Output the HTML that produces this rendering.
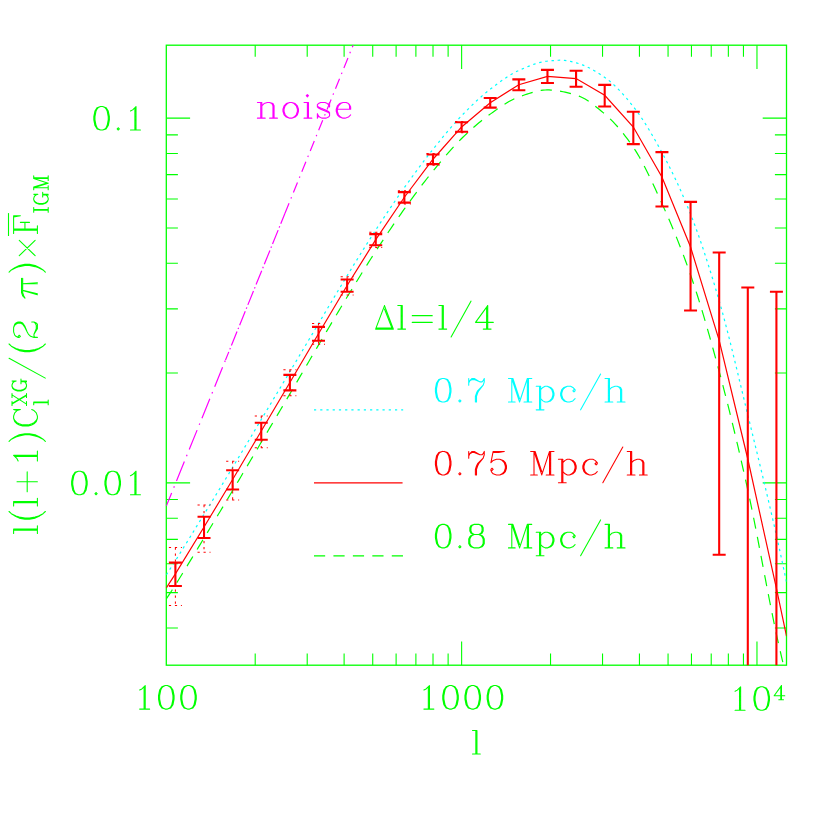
<!DOCTYPE html><html><head><meta charset="utf-8"><title>plot</title><style>html,body{margin:0;padding:0;background:#fff;font-family:"Liberation Sans",sans-serif}svg{display:block}</style></head><body><svg width="830" height="830" viewBox="0 0 830 830"><rect x="0" y="0" width="830" height="830" fill="#ffffff"/>
<path d="M255.2 665.2v-11.6M255.2 45.2v11.6M307.21 665.2v-11.6M307.21 45.2v11.6M344.11 665.2v-11.6M344.11 45.2v11.6M372.73 665.2v-11.6M372.73 45.2v11.6M396.11 665.2v-11.6M396.11 45.2v11.6M415.89 665.2v-11.6M415.89 45.2v11.6M433.01 665.2v-11.6M433.01 45.2v11.6M448.12 665.2v-11.6M448.12 45.2v11.6M461.63 665.2v-23.8M461.63 45.2v23.8M550.54 665.2v-11.6M550.54 45.2v11.6M602.54 665.2v-11.6M602.54 45.2v11.6M639.44 665.2v-11.6M639.44 45.2v11.6M668.06 665.2v-11.6M668.06 45.2v11.6M691.45 665.2v-11.6M691.45 45.2v11.6M711.22 665.2v-11.6M711.22 45.2v11.6M728.35 665.2v-11.6M728.35 45.2v11.6M743.45 665.2v-11.6M743.45 45.2v11.6M756.97 665.2v-23.8M756.97 45.2v23.8M166.3 627.98h11.6M786.5 627.98h-11.6M166.3 592.63h11.6M786.5 592.63h-11.6M166.3 563.76h11.6M786.5 563.76h-11.6M166.3 539.34h11.6M786.5 539.34h-11.6M166.3 518.19h11.6M786.5 518.19h-11.6M166.3 499.54h11.6M786.5 499.54h-11.6M166.3 482.85h23.8M786.5 482.85h-23.8M166.3 373.06h11.6M786.5 373.06h-11.6M166.3 308.84h11.6M786.5 308.84h-11.6M166.3 263.27h11.6M786.5 263.27h-11.6M166.3 227.93h11.6M786.5 227.93h-11.6M166.3 199.05h11.6M786.5 199.05h-11.6M166.3 174.63h11.6M786.5 174.63h-11.6M166.3 153.48h11.6M786.5 153.48h-11.6M166.3 134.83h11.6M786.5 134.83h-11.6M166.3 118.14h23.8M786.5 118.14h-23.8" stroke="#00ff00" stroke-width="1.1" fill="none"/>
<rect x="166.3" y="45.2" width="620.2" height="620" fill="none" stroke="#00ff00" stroke-width="1.3"/>
<clipPath id="c"><rect x="166.3" y="45.2" width="620.2" height="620"/></clipPath>
<g clip-path="url(#c)">
<path d="M166.3 506.1 L225.5 360.04" stroke="#ff00ff" stroke-width="1.2" fill="none" stroke-dasharray="21 5.7 1.5 5.7" stroke-dashoffset="6.8"/>
<path d="M225.5 360.04 L284.99 213.24" stroke="#ff00ff" stroke-width="1.2" fill="none" stroke-dasharray="15 2.7 1.5 2.7" stroke-dashoffset="6.2"/>
<path d="M284.99 213.24 L353.73 43.64" stroke="#ff00ff" stroke-width="1.2" fill="none" stroke-dasharray="10.8 5.05 1.5 5.05"/>
<path d="M166.3 574.8 L168.3 571.72 L170.3 568.63 L172.3 565.53 L174.3 562.4 L176.3 559.24 L178.3 556.06 L180.3 552.87 L182.31 549.66 L184.31 546.44 L186.31 543.21 L188.31 539.97 L190.31 536.72 L192.31 533.46 L194.31 530.2 L196.31 526.93 L198.31 523.66 L200.31 520.4 L202.31 517.13 L204.31 513.87 L206.31 510.61 L208.31 507.34 L210.31 504.07 L212.31 500.8 L214.32 497.53 L216.32 494.25 L218.32 490.97 L220.32 487.68 L222.32 484.39 L224.32 481.1 L226.32 477.8 L228.32 474.5 L230.32 471.19 L232.32 467.88 L234.32 464.57 L236.32 461.24 L238.32 457.91 L240.32 454.58 L242.32 451.24 L244.33 447.89 L246.33 444.54 L248.33 441.19 L250.33 437.84 L252.33 434.48 L254.33 431.13 L256.33 427.78 L258.33 424.43 L260.33 421.08 L262.33 417.73 L264.33 414.39 L266.33 411.05 L268.33 407.7 L270.33 404.36 L272.33 401.02 L274.33 397.67 L276.34 394.33 L278.34 390.98 L280.34 387.64 L282.34 384.29 L284.34 380.94 L286.34 377.59 L288.34 374.24 L290.34 370.89 L292.34 367.53 L294.34 364.18 L296.34 360.82 L298.34 357.46 L300.34 354.1 L302.34 350.73 L304.34 347.37 L306.35 344.01 L308.35 340.64 L310.35 337.28 L312.35 333.92 L314.35 330.56 L316.35 327.21 L318.35 323.85 L320.35 320.49 L322.35 317.13 L324.35 313.76 L326.35 310.39 L328.35 307.02 L330.35 303.65 L332.35 300.28 L334.35 296.92 L336.35 293.57 L338.36 290.22 L340.36 286.89 L342.36 283.57 L344.36 280.26 L346.36 276.98 L348.36 273.71 L350.36 270.44 L352.36 267.18 L354.36 263.93 L356.36 260.69 L358.36 257.45 L360.36 254.23 L362.36 251.02 L364.36 247.82 L366.36 244.65 L368.37 241.48 L370.37 238.34 L372.37 235.22 L374.37 232.12 L376.37 229.04 L378.37 225.97 L380.37 222.92 L382.37 219.88 L384.37 216.86 L386.37 213.85 L388.37 210.86 L390.37 207.89 L392.37 204.93 L394.37 202 L396.37 199.08 L398.37 196.19 L400.38 193.31 L402.38 190.46 L404.38 187.64 L406.38 184.83 L408.38 182.04 L410.38 179.26 L412.38 176.5 L414.38 173.76 L416.38 171.03 L418.38 168.33 L420.38 165.65 L422.38 162.99 L424.38 160.35 L426.38 157.74 L428.38 155.16 L430.39 152.6 L432.39 150.07 L434.39 147.57 L436.39 145.07 L438.39 142.59 L440.39 140.12 L442.39 137.67 L444.39 135.24 L446.39 132.83 L448.39 130.45 L450.39 128.11 L452.39 125.8 L454.39 123.53 L456.39 121.3 L458.39 119.12 L460.39 116.99 L462.4 114.91 L464.4 112.85 L466.4 110.82 L468.4 108.81 L470.4 106.83 L472.4 104.87 L474.4 102.95 L476.4 101.06 L478.4 99.22 L480.4 97.41 L482.4 95.64 L484.4 93.93 L486.4 92.26 L488.4 90.65 L490.4 89.09 L492.41 87.55 L494.41 86.03 L496.41 84.51 L498.41 83.02 L500.41 81.56 L502.41 80.13 L504.41 78.74 L506.41 77.39 L508.41 76.1 L510.41 74.87 L512.41 73.7 L514.41 72.6 L516.41 71.58 L518.41 70.64 L520.41 69.77 L522.41 68.9 L524.42 68.04 L526.42 67.2 L528.42 66.38 L530.42 65.59 L532.42 64.84 L534.42 64.14 L536.42 63.49 L538.42 62.89 L540.42 62.36 L542.42 61.9 L544.42 61.52 L546.42 61.23 L548.42 61.02 L550.42 60.83 L552.42 60.65 L554.43 60.49 L556.43 60.36 L558.43 60.27 L560.43 60.21 L562.43 60.21 L564.43 60.33 L566.43 60.58 L568.43 60.94 L570.43 61.37 L572.43 61.86 L574.43 62.37 L576.43 62.89 L578.43 63.46 L580.43 64.12 L582.43 64.86 L584.43 65.69 L586.44 66.58 L588.44 67.54 L590.44 68.57 L592.44 69.66 L594.44 70.8 L596.44 71.99 L598.44 73.23 L600.44 74.51 L602.44 75.82 L604.44 77.16 L606.44 78.56 L608.44 80.09 L610.44 81.73 L612.44 83.48 L614.44 85.34 L616.45 87.29 L618.45 89.32 L620.45 91.44 L622.45 93.64 L624.45 95.9 L626.45 98.22 L628.45 100.6 L630.45 103.03 L632.45 105.49 L634.45 108.01 L636.45 110.64 L638.45 113.4 L640.45 116.27 L642.45 119.25 L644.45 122.33 L646.45 125.51 L648.46 128.77 L650.46 132.11 L652.46 135.53 L654.46 139.01 L656.46 142.54 L658.46 146.13 L660.46 149.76 L662.46 153.43 L664.46 157.17 L666.46 160.98 L668.46 164.87 L670.46 168.85 L672.46 172.91 L674.46 177.06 L676.46 181.3 L678.47 185.64 L680.47 190.08 L682.47 194.61 L684.47 199.26 L686.47 204.01 L688.47 208.87 L690.47 213.84 L692.47 218.96 L694.47 224.24 L696.47 229.68 L698.47 235.28 L700.47 241.03 L702.47 246.92 L704.47 252.94 L706.47 259.1 L708.47 265.38 L710.48 271.78 L712.48 278.3 L714.48 284.92 L716.48 291.64 L718.48 298.46 L720.48 305.4 L722.48 312.59 L724.48 320.01 L726.48 327.64 L728.48 335.45 L730.48 343.41 L732.48 351.5 L734.48 359.69 L736.48 367.97 L738.48 376.29 L740.49 384.64 L742.49 393 L744.49 401.33 L746.49 409.61 L748.49 417.82 L750.49 426.01 L752.49 434.2 L754.49 442.42 L756.49 450.65 L758.49 458.91 L760.49 467.21 L762.49 475.55 L764.49 483.94 L766.49 492.38 L768.49 500.9 L770.49 509.48 L772.5 518.15 L774.5 526.9 L776.5 535.74 L778.5 544.74 L780.5 553.91 L782.5 563.22 L784.5 572.63 L786.5 582.1" stroke="#00ffff" stroke-width="1.2" fill="none" stroke-dasharray="2.5 3.73"/>
<path d="M166.3 599 L168.3 595.92 L170.31 592.83 L172.31 589.72 L174.32 586.58 L176.32 583.41 L178.32 580.21 L180.33 576.98 L182.33 573.74 L184.34 570.48 L186.34 567.21 L188.34 563.92 L190.35 560.63 L192.35 557.32 L194.35 554.01 L196.36 550.7 L198.36 547.39 L200.37 544.08 L202.37 540.77 L204.37 537.46 L206.38 534.16 L208.38 530.85 L210.39 527.54 L212.39 524.23 L214.39 520.92 L216.4 517.6 L218.4 514.28 L220.41 510.95 L222.41 507.62 L224.41 504.29 L226.42 500.95 L228.42 497.61 L230.42 494.26 L232.43 490.91 L234.43 487.55 L236.44 484.19 L238.44 480.82 L240.44 477.44 L242.45 474.06 L244.45 470.67 L246.46 467.28 L248.46 463.89 L250.46 460.5 L252.47 457.1 L254.47 453.71 L256.48 450.32 L258.48 446.93 L260.48 443.54 L262.49 440.15 L264.49 436.77 L266.49 433.39 L268.5 430 L270.5 426.62 L272.51 423.24 L274.51 419.86 L276.51 416.48 L278.52 413.09 L280.52 409.7 L282.53 406.32 L284.53 402.93 L286.53 399.53 L288.54 396.14 L290.54 392.74 L292.55 389.33 L294.55 385.92 L296.55 382.5 L298.56 379.08 L300.56 375.66 L302.56 372.24 L304.57 368.81 L306.57 365.39 L308.58 361.97 L310.58 358.55 L312.58 355.14 L314.59 351.73 L316.59 348.33 L318.6 344.93 L320.6 341.54 L322.6 338.15 L324.61 334.75 L326.61 331.36 L328.62 327.97 L330.62 324.58 L332.62 321.19 L334.63 317.82 L336.63 314.45 L338.64 311.09 L340.64 307.75 L342.64 304.42 L344.65 301.1 L346.65 297.8 L348.65 294.52 L350.66 291.24 L352.66 287.96 L354.67 284.69 L356.67 281.44 L358.67 278.19 L360.68 274.96 L362.68 271.74 L364.69 268.53 L366.69 265.34 L368.69 262.17 L370.7 259.02 L372.7 255.9 L374.71 252.79 L376.71 249.71 L378.71 246.65 L380.72 243.59 L382.72 240.56 L384.72 237.53 L386.73 234.53 L388.73 231.54 L390.74 228.57 L392.74 225.62 L394.74 222.69 L396.75 219.78 L398.75 216.9 L400.76 214.04 L402.76 211.21 L404.76 208.4 L406.77 205.61 L408.77 202.83 L410.78 200.07 L412.78 197.33 L414.78 194.6 L416.79 191.9 L418.79 189.21 L420.79 186.56 L422.8 183.92 L424.8 181.32 L426.81 178.75 L428.81 176.21 L430.81 173.7 L432.82 171.23 L434.82 168.78 L436.83 166.34 L438.83 163.91 L440.83 161.49 L442.84 159.1 L444.84 156.74 L446.85 154.4 L448.85 152.1 L450.85 149.83 L452.86 147.61 L454.86 145.44 L456.86 143.32 L458.87 141.25 L460.87 139.24 L462.88 137.29 L464.88 135.37 L466.88 133.48 L468.89 131.62 L470.89 129.79 L472.9 128 L474.9 126.24 L476.9 124.51 L478.91 122.83 L480.91 121.19 L482.92 119.59 L484.92 118.03 L486.92 116.51 L488.93 115.05 L490.93 113.63 L492.94 112.21 L494.94 110.79 L496.94 109.38 L498.95 107.99 L500.95 106.62 L502.95 105.29 L504.96 104 L506.96 102.76 L508.97 101.58 L510.97 100.48 L512.97 99.45 L514.98 98.5 L516.98 97.65 L518.99 96.91 L520.99 96.2 L522.99 95.5 L525 94.8 L527 94.11 L529.01 93.45 L531.01 92.82 L533.01 92.23 L535.02 91.68 L537.02 91.2 L539.02 90.78 L541.03 90.43 L543.03 90.17 L545.04 89.99 L547.04 89.92 L549.04 89.94 L551.05 90.03 L553.05 90.18 L555.06 90.4 L557.06 90.67 L559.06 90.99 L561.07 91.35 L563.07 91.76 L565.08 92.2 L567.08 92.68 L569.08 93.19 L571.09 93.71 L573.09 94.26 L575.09 94.82 L577.1 95.41 L579.1 96.13 L581.11 97 L583.11 97.99 L585.11 99.1 L587.12 100.33 L589.12 101.64 L591.13 103.05 L593.13 104.52 L595.13 106.06 L597.14 107.66 L599.14 109.29 L601.15 110.95 L603.15 112.63 L605.15 114.32 L607.16 116.07 L609.16 117.92 L611.16 119.87 L613.17 121.91 L615.17 124.05 L617.18 126.27 L619.18 128.58 L621.18 130.98 L623.19 133.46 L625.19 136.03 L627.2 138.68 L629.2 141.41 L631.2 144.22 L633.21 147.11 L635.21 150.13 L637.22 153.36 L639.22 156.77 L641.22 160.35 L643.23 164.08 L645.23 167.95 L647.24 171.94 L649.24 176.04 L651.24 180.23 L653.25 184.5 L655.25 188.82 L657.25 193.19 L659.26 197.58 L661.26 201.99 L663.27 206.4 L665.27 210.88 L667.27 215.43 L669.28 220.05 L671.28 224.75 L673.29 229.54 L675.29 234.41 L677.29 239.37 L679.3 244.43 L681.3 249.59 L683.31 254.86 L685.31 260.23 L687.31 265.72 L689.32 271.33 L691.32 277.06 L693.32 282.97 L695.33 289.05 L697.33 295.29 L699.34 301.69 L701.34 308.23 L703.34 314.91 L705.35 321.71 L707.35 328.63 L709.36 335.66 L711.36 342.79 L713.36 350.01 L715.37 357.3 L717.37 364.67 L719.38 372.1 L721.38 379.63 L723.38 387.28 L725.39 395.05 L727.39 402.95 L729.39 410.97 L731.4 419.1 L733.4 427.36 L735.41 435.73 L737.41 444.21 L739.41 452.81 L741.42 461.52 L743.42 470.35 L745.43 479.28 L747.43 488.32 L749.43 497.56 L751.44 507.14 L753.44 517.02 L755.45 527.13 L757.45 537.44 L759.45 547.88 L761.46 558.41 L763.46 568.96 L765.46 579.48 L767.47 589.92 L769.47 600.24 L771.48 610.36 L773.48 620.25 L775.48 629.84 L777.49 639.08 L779.49 647.99 L781.5 656.66 L783.5 665.2" stroke="#00ff00" stroke-width="1.2" fill="none" stroke-dasharray="11.2 8.25"/>
<path d="M166.3 588 L175.4 573.87 L204.02 527.05 L232.64 479.56 L261.26 431.02 L289.88 382.46 L318.5 333.7 L347.12 285.53 L375.74 239.6 L404.36 197.26 L432.98 159.23 L461.6 126.93 L490.22 102.73 L518.84 84.76 L547.46 76.31 L576.08 78.6 L604.7 95.33 L633.32 127.07 L661.94 176.98 L690.56 247.07 L719.18 340.37 L747.8 459 L776.42 588.4 L786.5 636.1" stroke="#ff0000" stroke-width="1.2" fill="none"/>
<path d="M168.9 547.5H181.9M168.9 605.5H181.9M175.4 547.5V605.5" stroke="#ff0000" stroke-width="1.05" fill="none" stroke-dasharray="2.2 3.8"/>
<path d="M197.52 505H210.52M197.52 552.3H210.52M204.02 505V552.3" stroke="#ff0000" stroke-width="1.05" fill="none" stroke-dasharray="2.2 3.8"/>
<path d="M226.14 461.3H239.14M226.14 500H239.14M232.64 461.3V500" stroke="#ff0000" stroke-width="1.05" fill="none" stroke-dasharray="2.2 3.8"/>
<path d="M254.76 416H267.76M254.76 447.8H267.76M261.26 416V447.8" stroke="#ff0000" stroke-width="1.05" fill="none" stroke-dasharray="2.2 3.8"/>
<path d="M283.38 369.8H296.38M283.38 395.8H296.38M289.88 369.8V395.8" stroke="#ff0000" stroke-width="1.05" fill="none" stroke-dasharray="2.2 3.8"/>
<path d="M312 323.4H325M312 344.2H325M318.5 323.4V344.2" stroke="#ff0000" stroke-width="1.05" fill="none" stroke-dasharray="2.2 3.8"/>
<path d="M340.62 276.8H353.62M340.62 295H353.62M347.12 276.8V295" stroke="#ff0000" stroke-width="1.05" fill="none" stroke-dasharray="2.2 3.8"/>
<path d="M369.24 232.3H382.24M369.24 247.5H382.24M375.74 232.3V247.5" stroke="#ff0000" stroke-width="1.05" fill="none" stroke-dasharray="2.2 3.8"/>
<path d="M397.86 190.7H410.86M397.86 204H410.86M404.36 190.7V204" stroke="#ff0000" stroke-width="1.05" fill="none" stroke-dasharray="2.2 3.8"/>
<path d="M426.48 153.4H439.48M426.48 165.2H439.48M432.98 153.4V165.2" stroke="#ff0000" stroke-width="1.05" fill="none" stroke-dasharray="2.2 3.8"/>
<path d="M455.1 121.4H468.1M455.1 132.6H468.1M461.6 121.4V132.6" stroke="#ff0000" stroke-width="1.05" fill="none" stroke-dasharray="2.2 3.8"/>
<path d="M168.9 562.6H181.9M168.9 586H181.9M175.4 562.6V586" stroke="#ff0000" stroke-width="2.1" fill="none"/>
<path d="M197.52 516.8H210.52M197.52 538H210.52M204.02 516.8V538" stroke="#ff0000" stroke-width="2.1" fill="none"/>
<path d="M226.14 470.2H239.14M226.14 489.5H239.14M232.64 470.2V489.5" stroke="#ff0000" stroke-width="2.1" fill="none"/>
<path d="M254.76 422.8H267.76M254.76 439.7H267.76M261.26 422.8V439.7" stroke="#ff0000" stroke-width="2.1" fill="none"/>
<path d="M283.38 374.9H296.38M283.38 390.4H296.38M289.88 374.9V390.4" stroke="#ff0000" stroke-width="2.1" fill="none"/>
<path d="M312 326.9H325M312 340.8H325M318.5 326.9V340.8" stroke="#ff0000" stroke-width="2.1" fill="none"/>
<path d="M340.62 279.5H353.62M340.62 291.8H353.62M347.12 279.5V291.8" stroke="#ff0000" stroke-width="2.1" fill="none"/>
<path d="M369.24 234.1H382.24M369.24 245.3H382.24M375.74 234.1V245.3" stroke="#ff0000" stroke-width="2.1" fill="none"/>
<path d="M397.86 192.1H410.86M397.86 202.6H410.86M404.36 192.1V202.6" stroke="#ff0000" stroke-width="2.1" fill="none"/>
<path d="M426.48 154.5H439.48M426.48 164.1H439.48M432.98 154.5V164.1" stroke="#ff0000" stroke-width="2.1" fill="none"/>
<path d="M455.1 122.3H468.1M455.1 131.7H468.1M461.6 122.3V131.7" stroke="#ff0000" stroke-width="2.1" fill="none"/>
<path d="M483.72 98H496.72M483.72 107.6H496.72M490.22 98V107.6" stroke="#ff0000" stroke-width="2.1" fill="none"/>
<path d="M512.34 79.4H525.34M512.34 90.3H525.34M518.84 79.4V90.3" stroke="#ff0000" stroke-width="2.1" fill="none"/>
<path d="M540.96 69.9H553.96M540.96 83H553.96M547.46 69.9V83" stroke="#ff0000" stroke-width="2.1" fill="none"/>
<path d="M569.58 70.8H582.58M569.58 86.8H582.58M576.08 70.8V86.8" stroke="#ff0000" stroke-width="2.1" fill="none"/>
<path d="M598.2 84.9H611.2M598.2 106.5H611.2M604.7 84.9V106.5" stroke="#ff0000" stroke-width="2.1" fill="none"/>
<path d="M626.82 111.7H639.82M626.82 144.1H639.82M633.32 111.7V144.1" stroke="#ff0000" stroke-width="2.1" fill="none"/>
<path d="M655.44 152.1H668.44M655.44 206.5H668.44M661.94 152.1V206.5" stroke="#ff0000" stroke-width="2.1" fill="none"/>
<path d="M684.06 201.9H697.06M684.06 310.5H697.06M690.56 201.9V310.5" stroke="#ff0000" stroke-width="2.1" fill="none"/>
<path d="M712.68 252.5H725.68M712.68 554.7H725.68M719.18 252.5V554.7" stroke="#ff0000" stroke-width="2.1" fill="none"/>
<path d="M741.3 287.5H754.3M747.8 287.5V670.2" stroke="#ff0000" stroke-width="2.1" fill="none"/>
<path d="M769.92 291.8H782.92M776.42 291.8V670.2" stroke="#ff0000" stroke-width="2.1" fill="none"/>
</g>
<path d="M313.97 409.91 L403.17 409.91" stroke="#00ffff" stroke-width="1.2" fill="none" stroke-dasharray="2.2 4.03"/>
<path d="M313.97 482.85 L402.57 482.85" stroke="#ff0000" stroke-width="1.2" fill="none"/>
<path d="M313.97 555.79 L403.17 555.79" stroke="#00ff00" stroke-width="1.2" fill="none" stroke-dasharray="11.2 8.25"/>
<path d="M100.49 106.52 L97.16 107.64 L94.94 111 L93.83 116.6 L93.83 119.96 L94.94 125.56 L97.16 128.92 L100.49 130.04 L102.71 130.04 L106.04 128.92 L108.26 125.56 L109.37 119.96 L109.37 116.6 L108.26 111 L106.04 107.64 L102.71 106.52 L100.49 106.52M100.49 106.52 L98.27 107.64 L97.16 108.76 L96.05 111 L94.94 116.6 L94.94 119.96 L96.05 125.56 L97.16 127.8 L98.27 128.92 L100.49 130.04M102.71 130.04 L104.93 128.92 L106.04 127.8 L107.15 125.56 L108.26 119.96 L108.26 116.6 L107.15 111 L106.04 108.76 L104.93 107.64 L102.71 106.52M118.25 127.8 L117.14 128.92 L118.25 130.04 L119.36 128.92 L118.25 127.8M130.46 111 L132.68 109.88 L136.01 106.52 L136.01 130.04M134.9 107.64 L134.9 130.04M130.46 130.04 L140.45 130.04" stroke="#00ff00" stroke-width="1.08" fill="none" stroke-linecap="round" stroke-linejoin="round"/>
<path d="M78.29 471.23 L74.96 472.35 L72.74 475.71 L71.63 481.31 L71.63 484.67 L72.74 490.27 L74.96 493.63 L78.29 494.75 L80.51 494.75 L83.84 493.63 L86.06 490.27 L87.17 484.67 L87.17 481.31 L86.06 475.71 L83.84 472.35 L80.51 471.23 L78.29 471.23M78.29 471.23 L76.07 472.35 L74.96 473.47 L73.85 475.71 L72.74 481.31 L72.74 484.67 L73.85 490.27 L74.96 492.51 L76.07 493.63 L78.29 494.75M80.51 494.75 L82.73 493.63 L83.84 492.51 L84.95 490.27 L86.06 484.67 L86.06 481.31 L84.95 475.71 L83.84 473.47 L82.73 472.35 L80.51 471.23M96.05 492.51 L94.94 493.63 L96.05 494.75 L97.16 493.63 L96.05 492.51M111.59 471.23 L108.26 472.35 L106.04 475.71 L104.93 481.31 L104.93 484.67 L106.04 490.27 L108.26 493.63 L111.59 494.75 L113.81 494.75 L117.14 493.63 L119.36 490.27 L120.47 484.67 L120.47 481.31 L119.36 475.71 L117.14 472.35 L113.81 471.23 L111.59 471.23M111.59 471.23 L109.37 472.35 L108.26 473.47 L107.15 475.71 L106.04 481.31 L106.04 484.67 L107.15 490.27 L108.26 492.51 L109.37 493.63 L111.59 494.75M113.81 494.75 L116.03 493.63 L117.14 492.51 L118.25 490.27 L119.36 484.67 L119.36 481.31 L118.25 475.71 L117.14 473.47 L116.03 472.35 L113.81 471.23M130.46 475.71 L132.68 474.59 L136.01 471.23 L136.01 494.75M134.9 472.35 L134.9 494.75M130.46 494.75 L140.45 494.75" stroke="#00ff00" stroke-width="1.08" fill="none" stroke-linecap="round" stroke-linejoin="round"/>
<path d="M139.66 690.06 L141.88 688.94 L145.21 685.58 L145.21 709.1M144.1 686.7 L144.1 709.1M139.66 709.1 L149.65 709.1M165.19 685.58 L161.86 686.7 L159.64 690.06 L158.53 695.66 L158.53 699.02 L159.64 704.62 L161.86 707.98 L165.19 709.1 L167.41 709.1 L170.74 707.98 L172.96 704.62 L174.07 699.02 L174.07 695.66 L172.96 690.06 L170.74 686.7 L167.41 685.58 L165.19 685.58M165.19 685.58 L162.97 686.7 L161.86 687.82 L160.75 690.06 L159.64 695.66 L159.64 699.02 L160.75 704.62 L161.86 706.86 L162.97 707.98 L165.19 709.1M167.41 709.1 L169.63 707.98 L170.74 706.86 L171.85 704.62 L172.96 699.02 L172.96 695.66 L171.85 690.06 L170.74 687.82 L169.63 686.7 L167.41 685.58M187.39 685.58 L184.06 686.7 L181.84 690.06 L180.73 695.66 L180.73 699.02 L181.84 704.62 L184.06 707.98 L187.39 709.1 L189.61 709.1 L192.94 707.98 L195.16 704.62 L196.27 699.02 L196.27 695.66 L195.16 690.06 L192.94 686.7 L189.61 685.58 L187.39 685.58M187.39 685.58 L185.17 686.7 L184.06 687.82 L182.95 690.06 L181.84 695.66 L181.84 699.02 L182.95 704.62 L184.06 706.86 L185.17 707.98 L187.39 709.1M189.61 709.1 L191.83 707.98 L192.94 706.86 L194.05 704.62 L195.16 699.02 L195.16 695.66 L194.05 690.06 L192.94 687.82 L191.83 686.7 L189.61 685.58" stroke="#00ff00" stroke-width="1.08" fill="none" stroke-linecap="round" stroke-linejoin="round"/>
<path d="M423.89 690.06 L426.11 688.94 L429.44 685.58 L429.44 709.1M428.33 686.7 L428.33 709.1M423.89 709.1 L433.88 709.1M449.42 685.58 L446.09 686.7 L443.87 690.06 L442.76 695.66 L442.76 699.02 L443.87 704.62 L446.09 707.98 L449.42 709.1 L451.64 709.1 L454.97 707.98 L457.19 704.62 L458.3 699.02 L458.3 695.66 L457.19 690.06 L454.97 686.7 L451.64 685.58 L449.42 685.58M449.42 685.58 L447.2 686.7 L446.09 687.82 L444.98 690.06 L443.87 695.66 L443.87 699.02 L444.98 704.62 L446.09 706.86 L447.2 707.98 L449.42 709.1M451.64 709.1 L453.86 707.98 L454.97 706.86 L456.08 704.62 L457.19 699.02 L457.19 695.66 L456.08 690.06 L454.97 687.82 L453.86 686.7 L451.64 685.58M471.62 685.58 L468.29 686.7 L466.07 690.06 L464.96 695.66 L464.96 699.02 L466.07 704.62 L468.29 707.98 L471.62 709.1 L473.84 709.1 L477.17 707.98 L479.39 704.62 L480.5 699.02 L480.5 695.66 L479.39 690.06 L477.17 686.7 L473.84 685.58 L471.62 685.58M471.62 685.58 L469.4 686.7 L468.29 687.82 L467.18 690.06 L466.07 695.66 L466.07 699.02 L467.18 704.62 L468.29 706.86 L469.4 707.98 L471.62 709.1M473.84 709.1 L476.06 707.98 L477.17 706.86 L478.28 704.62 L479.39 699.02 L479.39 695.66 L478.28 690.06 L477.17 687.82 L476.06 686.7 L473.84 685.58M493.82 685.58 L490.49 686.7 L488.27 690.06 L487.16 695.66 L487.16 699.02 L488.27 704.62 L490.49 707.98 L493.82 709.1 L496.04 709.1 L499.37 707.98 L501.59 704.62 L502.7 699.02 L502.7 695.66 L501.59 690.06 L499.37 686.7 L496.04 685.58 L493.82 685.58M493.82 685.58 L491.6 686.7 L490.49 687.82 L489.38 690.06 L488.27 695.66 L488.27 699.02 L489.38 704.62 L490.49 706.86 L491.6 707.98 L493.82 709.1M496.04 709.1 L498.26 707.98 L499.37 706.86 L500.48 704.62 L501.59 699.02 L501.59 695.66 L500.48 690.06 L499.37 687.82 L498.26 686.7 L496.04 685.58" stroke="#00ff00" stroke-width="1.08" fill="none" stroke-linecap="round" stroke-linejoin="round"/>
<path d="M735.07 691.26 L737.29 690.14 L740.62 686.78 L740.62 710.3M739.51 687.9 L739.51 710.3M735.07 710.3 L745.06 710.3M760.6 686.78 L757.27 687.9 L755.05 691.26 L753.94 696.86 L753.94 700.22 L755.05 705.82 L757.27 709.18 L760.6 710.3 L762.82 710.3 L766.15 709.18 L768.37 705.82 L769.48 700.22 L769.48 696.86 L768.37 691.26 L766.15 687.9 L762.82 686.78 L760.6 686.78M760.6 686.78 L758.38 687.9 L757.27 689.02 L756.16 691.26 L755.05 696.86 L755.05 700.22 L756.16 705.82 L757.27 708.06 L758.38 709.18 L760.6 710.3M762.82 710.3 L765.04 709.18 L766.15 708.06 L767.26 705.82 L768.37 700.22 L768.37 696.86 L767.26 691.26 L766.15 689.02 L765.04 687.9 L762.82 686.78M780.8 686.98 L780.8 699.75M781.46 685.64 L781.46 699.75M781.46 685.64 L774.14 695.72 L784.79 695.72M778.8 699.75 L783.46 699.75" stroke="#00ff00" stroke-width="1.08" fill="none" stroke-linecap="round" stroke-linejoin="round"/>
<path d="M475.84 730.48 L475.84 754M476.95 730.48 L476.95 754M472.51 730.48 L476.95 730.48M472.51 754 L480.28 754" stroke="#00ff00" stroke-width="1.08" fill="none" stroke-linecap="round" stroke-linejoin="round"/>
<path d="M260.75 102.46 L260.75 118.14M261.86 102.46 L261.86 118.14M261.86 105.82 L264.08 103.58 L267.41 102.46 L269.63 102.46 L272.96 103.58 L274.07 105.82 L274.07 118.14M269.63 102.46 L271.85 103.58 L272.96 105.82 L272.96 118.14M257.42 102.46 L261.86 102.46M257.42 118.14 L265.19 118.14M269.63 118.14 L277.4 118.14M289.61 102.46 L286.28 103.58 L284.06 105.82 L282.95 109.18 L282.95 111.42 L284.06 114.78 L286.28 117.02 L289.61 118.14 L291.83 118.14 L295.16 117.02 L297.38 114.78 L298.49 111.42 L298.49 109.18 L297.38 105.82 L295.16 103.58 L291.83 102.46 L289.61 102.46M289.61 102.46 L287.39 103.58 L285.17 105.82 L284.06 109.18 L284.06 111.42 L285.17 114.78 L287.39 117.02 L289.61 118.14M291.83 118.14 L294.05 117.02 L296.27 114.78 L297.38 111.42 L297.38 109.18 L296.27 105.82 L294.05 103.58 L291.83 102.46M307.37 94.62 L306.26 95.74 L307.37 96.86 L308.48 95.74 L307.37 94.62M307.37 102.46 L307.37 118.14M308.48 102.46 L308.48 118.14M304.04 102.46 L308.48 102.46M304.04 118.14 L311.81 118.14M307.37 95.74 L307.37 95.74M328.46 104.7 L329.57 102.46 L329.57 106.94 L328.46 104.7 L327.35 103.58 L325.13 102.46 L320.69 102.46 L318.47 103.58 L317.36 104.7 L317.36 106.94 L318.47 108.06 L320.69 109.18 L326.24 111.42 L328.46 112.54 L329.57 113.66M317.36 105.82 L318.47 106.94 L320.69 108.06 L326.24 110.3 L328.46 111.42 L329.57 112.54 L329.57 115.9 L328.46 117.02 L326.24 118.14 L321.8 118.14 L319.58 117.02 L318.47 115.9 L317.36 113.66 L317.36 118.14 L318.47 115.9M337.34 109.18 L350.66 109.18 L350.66 106.94 L349.55 104.7 L348.44 103.58 L346.22 102.46 L342.89 102.46 L339.56 103.58 L337.34 105.82 L336.23 109.18 L336.23 111.42 L337.34 114.78 L339.56 117.02 L342.89 118.14 L345.11 118.14 L348.44 117.02 L350.66 114.78M349.55 109.18 L349.55 105.82 L348.44 103.58M342.89 102.46 L340.67 103.58 L338.45 105.82 L337.34 109.18 L337.34 111.42 L338.45 114.78 L340.67 117.02 L342.89 118.14" stroke="#ff00ff" stroke-width="1.08" fill="none" stroke-linecap="round" stroke-linejoin="round"/>
<path d="M384.5 305.58 L375.62 329.1M384.5 305.58 L393.38 329.1M384.5 308.94 L392.27 329.1M376.73 327.98 L392.27 327.98M375.62 329.1 L393.38 329.1M401.15 305.58 L401.15 329.1M402.26 305.58 L402.26 329.1M397.82 305.58 L402.26 305.58M397.82 329.1 L405.59 329.1M412.25 315.66 L432.23 315.66M412.25 322.38 L432.23 322.38M442.22 305.58 L442.22 329.1M443.33 305.58 L443.33 329.1M438.89 305.58 L443.33 305.58M438.89 329.1 L446.66 329.1M471.08 301.1 L451.1 336.94M486.62 307.82 L486.62 329.1M487.73 305.58 L487.73 329.1M487.73 305.58 L475.52 322.38 L493.28 322.38M483.29 329.1 L491.06 329.1" stroke="#00ff00" stroke-width="1.08" fill="none" stroke-linecap="round" stroke-linejoin="round"/>
<path d="M442.09 378.49 L438.76 379.61 L436.54 382.97 L435.43 388.57 L435.43 391.93 L436.54 397.53 L438.76 400.89 L442.09 402.01 L444.31 402.01 L447.64 400.89 L449.86 397.53 L450.97 391.93 L450.97 388.57 L449.86 382.97 L447.64 379.61 L444.31 378.49 L442.09 378.49M442.09 378.49 L439.87 379.61 L438.76 380.73 L437.65 382.97 L436.54 388.57 L436.54 391.93 L437.65 397.53 L438.76 399.77 L439.87 400.89 L442.09 402.01M444.31 402.01 L446.53 400.89 L447.64 399.77 L448.75 397.53 L449.86 391.93 L449.86 388.57 L448.75 382.97 L447.64 380.73 L446.53 379.61 L444.31 378.49M459.85 399.77 L458.74 400.89 L459.85 402.01 L460.96 400.89 L459.85 399.77M468.73 378.49 L468.73 385.21M468.73 382.97 L469.84 380.73 L472.06 378.49 L474.28 378.49 L479.83 381.85 L482.05 381.85 L483.16 380.73 L484.27 378.49M469.84 380.73 L472.06 379.61 L474.28 379.61 L479.83 381.85M484.27 378.49 L484.27 381.85 L483.16 385.21 L478.72 390.81 L477.61 393.05 L476.5 396.41 L476.5 402.01M483.16 385.21 L477.61 390.81 L476.5 393.05 L475.39 396.41 L475.39 402.01M511.8 378.49 L511.8 402.01M512.91 378.49 L519.57 398.65M511.8 378.49 L519.57 402.01M527.34 378.49 L519.57 402.01M527.34 378.49 L527.34 402.01M528.45 378.49 L528.45 402.01M508.47 378.49 L512.91 378.49M527.34 378.49 L531.78 378.49M508.47 402.01 L515.13 402.01M524.01 402.01 L531.78 402.01M539.55 386.33 L539.55 409.85M540.66 386.33 L540.66 409.85M540.66 389.69 L542.88 387.45 L545.1 386.33 L547.32 386.33 L550.65 387.45 L552.87 389.69 L553.98 393.05 L553.98 395.29 L552.87 398.65 L550.65 400.89 L547.32 402.01 L545.1 402.01 L542.88 400.89 L540.66 398.65M547.32 386.33 L549.54 387.45 L551.76 389.69 L552.87 393.05 L552.87 395.29 L551.76 398.65 L549.54 400.89 L547.32 402.01M536.22 386.33 L540.66 386.33M536.22 409.85 L543.99 409.85M573.96 389.69 L572.85 390.81 L573.96 391.93 L575.07 390.81 L575.07 389.69 L572.85 387.45 L570.63 386.33 L567.3 386.33 L563.97 387.45 L561.75 389.69 L560.64 393.05 L560.64 395.29 L561.75 398.65 L563.97 400.89 L567.3 402.01 L569.52 402.01 L572.85 400.89 L575.07 398.65M567.3 386.33 L565.08 387.45 L562.86 389.69 L561.75 393.05 L561.75 395.29 L562.86 398.65 L565.08 400.89 L567.3 402.01M600.6 374.01 L580.62 409.85M608.37 378.49 L608.37 402.01M609.48 378.49 L609.48 402.01M609.48 389.69 L611.7 387.45 L615.03 386.33 L617.25 386.33 L620.58 387.45 L621.69 389.69 L621.69 402.01M617.25 386.33 L619.47 387.45 L620.58 389.69 L620.58 402.01M605.04 378.49 L609.48 378.49M605.04 402.01 L612.81 402.01M617.25 402.01 L625.02 402.01" stroke="#00ffff" stroke-width="1.08" fill="none" stroke-linecap="round" stroke-linejoin="round"/>
<path d="M442.09 451.43 L438.76 452.55 L436.54 455.91 L435.43 461.51 L435.43 464.87 L436.54 470.47 L438.76 473.83 L442.09 474.95 L444.31 474.95 L447.64 473.83 L449.86 470.47 L450.97 464.87 L450.97 461.51 L449.86 455.91 L447.64 452.55 L444.31 451.43 L442.09 451.43M442.09 451.43 L439.87 452.55 L438.76 453.67 L437.65 455.91 L436.54 461.51 L436.54 464.87 L437.65 470.47 L438.76 472.71 L439.87 473.83 L442.09 474.95M444.31 474.95 L446.53 473.83 L447.64 472.71 L448.75 470.47 L449.86 464.87 L449.86 461.51 L448.75 455.91 L447.64 453.67 L446.53 452.55 L444.31 451.43M459.85 472.71 L458.74 473.83 L459.85 474.95 L460.96 473.83 L459.85 472.71M468.73 451.43 L468.73 458.15M468.73 455.91 L469.84 453.67 L472.06 451.43 L474.28 451.43 L479.83 454.79 L482.05 454.79 L483.16 453.67 L484.27 451.43M469.84 453.67 L472.06 452.55 L474.28 452.55 L479.83 454.79M484.27 451.43 L484.27 454.79 L483.16 458.15 L478.72 463.75 L477.61 465.99 L476.5 469.35 L476.5 474.95M483.16 458.15 L477.61 463.75 L476.5 465.99 L475.39 469.35 L475.39 474.95M493.15 451.43 L490.93 462.63M490.93 462.63 L493.15 460.39 L496.48 459.27 L499.81 459.27 L503.14 460.39 L505.36 462.63 L506.47 465.99 L506.47 468.23 L505.36 471.59 L503.14 473.83 L499.81 474.95 L496.48 474.95 L493.15 473.83 L492.04 472.71 L490.93 470.47 L490.93 469.35 L492.04 468.23 L493.15 469.35 L492.04 470.47M499.81 459.27 L502.03 460.39 L504.25 462.63 L505.36 465.99 L505.36 468.23 L504.25 471.59 L502.03 473.83 L499.81 474.95M493.15 451.43 L504.25 451.43M493.15 452.55 L498.7 452.55 L504.25 451.43M534 451.43 L534 474.95M535.11 451.43 L541.77 471.59M534 451.43 L541.77 474.95M549.54 451.43 L541.77 474.95M549.54 451.43 L549.54 474.95M550.65 451.43 L550.65 474.95M530.67 451.43 L535.11 451.43M549.54 451.43 L553.98 451.43M530.67 474.95 L537.33 474.95M546.21 474.95 L553.98 474.95M561.75 459.27 L561.75 482.79M562.86 459.27 L562.86 482.79M562.86 462.63 L565.08 460.39 L567.3 459.27 L569.52 459.27 L572.85 460.39 L575.07 462.63 L576.18 465.99 L576.18 468.23 L575.07 471.59 L572.85 473.83 L569.52 474.95 L567.3 474.95 L565.08 473.83 L562.86 471.59M569.52 459.27 L571.74 460.39 L573.96 462.63 L575.07 465.99 L575.07 468.23 L573.96 471.59 L571.74 473.83 L569.52 474.95M558.42 459.27 L562.86 459.27M558.42 482.79 L566.19 482.79M596.16 462.63 L595.05 463.75 L596.16 464.87 L597.27 463.75 L597.27 462.63 L595.05 460.39 L592.83 459.27 L589.5 459.27 L586.17 460.39 L583.95 462.63 L582.84 465.99 L582.84 468.23 L583.95 471.59 L586.17 473.83 L589.5 474.95 L591.72 474.95 L595.05 473.83 L597.27 471.59M589.5 459.27 L587.28 460.39 L585.06 462.63 L583.95 465.99 L583.95 468.23 L585.06 471.59 L587.28 473.83 L589.5 474.95M622.8 446.95 L602.82 482.79M630.57 451.43 L630.57 474.95M631.68 451.43 L631.68 474.95M631.68 462.63 L633.9 460.39 L637.23 459.27 L639.45 459.27 L642.78 460.39 L643.89 462.63 L643.89 474.95M639.45 459.27 L641.67 460.39 L642.78 462.63 L642.78 474.95M627.24 451.43 L631.68 451.43M627.24 474.95 L635.01 474.95M639.45 474.95 L647.22 474.95" stroke="#ff0000" stroke-width="1.08" fill="none" stroke-linecap="round" stroke-linejoin="round"/>
<path d="M442.09 524.37 L438.76 525.49 L436.54 528.85 L435.43 534.45 L435.43 537.81 L436.54 543.41 L438.76 546.77 L442.09 547.89 L444.31 547.89 L447.64 546.77 L449.86 543.41 L450.97 537.81 L450.97 534.45 L449.86 528.85 L447.64 525.49 L444.31 524.37 L442.09 524.37M442.09 524.37 L439.87 525.49 L438.76 526.61 L437.65 528.85 L436.54 534.45 L436.54 537.81 L437.65 543.41 L438.76 545.65 L439.87 546.77 L442.09 547.89M444.31 547.89 L446.53 546.77 L447.64 545.65 L448.75 543.41 L449.86 537.81 L449.86 534.45 L448.75 528.85 L447.64 526.61 L446.53 525.49 L444.31 524.37M459.85 545.65 L458.74 546.77 L459.85 547.89 L460.96 546.77 L459.85 545.65M474.28 524.37 L470.95 525.49 L469.84 527.73 L469.84 531.09 L470.95 533.33 L474.28 534.45 L478.72 534.45 L482.05 533.33 L483.16 531.09 L483.16 527.73 L482.05 525.49 L478.72 524.37 L474.28 524.37M474.28 524.37 L472.06 525.49 L470.95 527.73 L470.95 531.09 L472.06 533.33 L474.28 534.45M478.72 534.45 L480.94 533.33 L482.05 531.09 L482.05 527.73 L480.94 525.49 L478.72 524.37M474.28 534.45 L470.95 535.57 L469.84 536.69 L468.73 538.93 L468.73 543.41 L469.84 545.65 L470.95 546.77 L474.28 547.89 L478.72 547.89 L482.05 546.77 L483.16 545.65 L484.27 543.41 L484.27 538.93 L483.16 536.69 L482.05 535.57 L478.72 534.45M474.28 534.45 L472.06 535.57 L470.95 536.69 L469.84 538.93 L469.84 543.41 L470.95 545.65 L472.06 546.77 L474.28 547.89M478.72 547.89 L480.94 546.77 L482.05 545.65 L483.16 543.41 L483.16 538.93 L482.05 536.69 L480.94 535.57 L478.72 534.45M511.8 524.37 L511.8 547.89M512.91 524.37 L519.57 544.53M511.8 524.37 L519.57 547.89M527.34 524.37 L519.57 547.89M527.34 524.37 L527.34 547.89M528.45 524.37 L528.45 547.89M508.47 524.37 L512.91 524.37M527.34 524.37 L531.78 524.37M508.47 547.89 L515.13 547.89M524.01 547.89 L531.78 547.89M539.55 532.21 L539.55 555.73M540.66 532.21 L540.66 555.73M540.66 535.57 L542.88 533.33 L545.1 532.21 L547.32 532.21 L550.65 533.33 L552.87 535.57 L553.98 538.93 L553.98 541.17 L552.87 544.53 L550.65 546.77 L547.32 547.89 L545.1 547.89 L542.88 546.77 L540.66 544.53M547.32 532.21 L549.54 533.33 L551.76 535.57 L552.87 538.93 L552.87 541.17 L551.76 544.53 L549.54 546.77 L547.32 547.89M536.22 532.21 L540.66 532.21M536.22 555.73 L543.99 555.73M573.96 535.57 L572.85 536.69 L573.96 537.81 L575.07 536.69 L575.07 535.57 L572.85 533.33 L570.63 532.21 L567.3 532.21 L563.97 533.33 L561.75 535.57 L560.64 538.93 L560.64 541.17 L561.75 544.53 L563.97 546.77 L567.3 547.89 L569.52 547.89 L572.85 546.77 L575.07 544.53M567.3 532.21 L565.08 533.33 L562.86 535.57 L561.75 538.93 L561.75 541.17 L562.86 544.53 L565.08 546.77 L567.3 547.89M600.6 519.89 L580.62 555.73M608.37 524.37 L608.37 547.89M609.48 524.37 L609.48 547.89M609.48 535.57 L611.7 533.33 L615.03 532.21 L617.25 532.21 L620.58 533.33 L621.69 535.57 L621.69 547.89M617.25 532.21 L619.47 533.33 L620.58 535.57 L620.58 547.89M605.04 524.37 L609.48 524.37M605.04 547.89 L612.81 547.89M617.25 547.89 L625.02 547.89" stroke="#00ff00" stroke-width="1.08" fill="none" stroke-linecap="round" stroke-linejoin="round"/>
<path d="M13.61 530.2 L37.4 530.2M13.61 529.1 L37.4 529.1M13.61 533.5 L13.61 529.1M37.4 533.5 L37.4 525.8M9.07 511.5 L11.34 513.7 L14.74 515.9 L19.27 518.1 L24.94 519.2 L29.47 519.2 L35.13 518.1 L39.67 515.9 L43.06 513.7 L45.33 511.5M11.34 513.7 L15.87 515.9 L19.27 517 L24.94 518.1 L29.47 518.1 L35.13 517 L38.53 515.9 L43.06 513.7M13.61 502.7 L37.4 502.7M13.61 501.6 L37.4 501.6M13.61 506 L13.61 501.6M37.4 506 L37.4 498.3M17.01 481.8 L37.4 481.8M27.2 491.7 L27.2 471.9M18.14 460.9 L17.01 458.7 L13.61 455.4 L37.4 455.4M14.74 456.5 L37.4 456.5M37.4 460.9 L37.4 451M9.07 441.4 L11.34 439.2 L14.74 437 L19.27 434.8 L24.94 433.7 L29.47 433.7 L35.13 434.8 L39.67 437 L43.06 439.2 L45.33 441.4M11.34 439.2 L15.87 437 L19.27 435.9 L24.94 434.8 L29.47 434.8 L35.13 435.9 L38.53 437 L43.06 439.2M17.01 410.6 L20.4 409.5 L13.61 409.5 L17.01 410.6 L14.74 412.8 L13.61 416.1 L13.61 418.3 L14.74 421.6 L17.01 423.8 L19.27 424.9 L22.67 426 L28.34 426 L31.73 424.9 L34 423.8 L36.27 421.6 L37.4 418.3 L37.4 416.1 L36.27 412.8 L34 410.6 L31.73 409.5M13.61 418.3 L14.74 420.5 L17.01 422.7 L19.27 423.8 L22.67 424.9 L28.34 424.9 L31.73 423.8 L34 422.7 L36.27 420.5 L37.4 418.3M33.71 402.8 L48.2 402.8M33.71 402.14 L48.2 402.14M33.71 404.78 L33.71 402.14M48.2 404.78 L48.2 400.16M12.01 404.12 L26.5 395.54M12.01 403.46 L26.5 394.88M12.01 394.88 L26.5 404.12M12.01 405.44 L12.01 401.48M12.01 397.52 L12.01 393.56M26.5 405.44 L26.5 401.48M26.5 397.52 L26.5 393.56M14.08 381.68 L16.15 381.02 L12.01 381.02 L14.08 381.68 L12.7 383 L12.01 384.98 L12.01 386.3 L12.7 388.28 L14.08 389.6 L15.46 390.26 L17.53 390.92 L20.98 390.92 L23.05 390.26 L24.43 389.6 L25.81 388.28 L26.5 386.3 L26.5 384.98 L25.81 383 L24.43 381.68M12.01 386.3 L12.7 387.62 L14.08 388.94 L15.46 389.6 L17.53 390.26 L20.98 390.26 L23.05 389.6 L24.43 388.94 L25.81 387.62 L26.5 386.3M20.98 381.68 L26.5 381.68M20.98 381.02 L26.5 381.02M20.98 383.66 L20.98 379.04M9.07 358.3 L45.33 378.1M9.07 344 L11.34 346.2 L14.74 348.4 L19.27 350.6 L24.94 351.7 L29.47 351.7 L35.13 350.6 L39.67 348.4 L43.06 346.2 L45.33 344M11.34 346.2 L15.87 348.4 L19.27 349.5 L24.94 350.6 L29.47 350.6 L35.13 349.5 L38.53 348.4 L43.06 346.2M18.14 336.3 L19.27 335.2 L20.4 336.3 L19.27 337.4 L18.14 337.4 L15.87 336.3 L14.74 335.2 L13.61 331.9 L13.61 327.5 L14.74 324.2 L15.87 323.1 L18.14 322 L20.4 322 L22.67 323.1 L24.94 326.4 L27.2 331.9 L28.34 334.1 L30.6 336.3 L34 337.4 L37.4 337.4M13.61 327.5 L14.74 325.3 L15.87 324.2 L18.14 323.1 L20.4 323.1 L22.67 324.2 L24.94 327.5 L27.2 331.9M35.13 337.4 L34 336.3 L34 334.1 L36.27 328.6 L36.27 325.3 L35.13 323.1 L34 322M34 334.1 L37.4 328.6 L37.4 324.2 L36.27 323.1 L34 322 L31.73 322M22.67 290.4 L37.4 294.8M22.67 290.4 L37.4 293.7M22.67 283.8 L37.4 283.8M22.67 283.8 L37.4 282.7M24.94 298.1 L22.67 295.9 L21.54 292.6 L21.54 278.3M24.94 298.1 L23.8 295.9 L22.67 292.6 L22.67 278.3M9.07 272.1 L11.34 269.9 L14.74 267.7 L19.27 265.5 L24.94 264.4 L29.47 264.4 L35.13 265.5 L39.67 267.7 L43.06 269.9 L45.33 272.1M11.34 269.9 L15.87 267.7 L19.27 266.6 L24.94 265.5 L29.47 265.5 L35.13 266.6 L38.53 267.7 L43.06 269.9M19.27 255.7 L35.13 240.3M19.27 240.3 L35.13 255.7M13.61 230.1 L37.4 230.1M13.61 229 L37.4 229M20.4 222.4 L29.47 222.4M13.61 233.4 L13.61 215.8 L20.4 215.8 L13.61 216.9M24.94 229 L24.94 222.4M37.4 233.4 L37.4 225.7M33.71 210.2 L48.2 210.2M33.71 209.54 L48.2 209.54M33.71 212.18 L33.71 207.56M48.2 212.18 L48.2 207.56M35.78 195.02 L37.85 194.36 L33.71 194.36 L35.78 195.02 L34.4 196.34 L33.71 198.32 L33.71 199.64 L34.4 201.62 L35.78 202.94 L37.16 203.6 L39.23 204.26 L42.68 204.26 L44.75 203.6 L46.13 202.94 L47.51 201.62 L48.2 199.64 L48.2 198.32 L47.51 196.34 L46.13 195.02M33.71 199.64 L34.4 200.96 L35.78 202.28 L37.16 202.94 L39.23 203.6 L42.68 203.6 L44.75 202.94 L46.13 202.28 L47.51 200.96 L48.2 199.64M42.68 195.02 L48.2 195.02M42.68 194.36 L48.2 194.36M42.68 197 L42.68 192.38M33.71 187.76 L48.2 187.76M33.71 187.1 L46.13 183.14M33.71 187.76 L48.2 183.14M33.71 178.52 L48.2 183.14M33.71 178.52 L48.2 178.52M33.71 177.86 L48.2 177.86M33.71 189.74 L33.71 187.1M33.71 178.52 L33.71 175.88M48.2 189.74 L48.2 185.78M48.2 180.5 L48.2 175.88" stroke="#00ff00" stroke-width="1.08" fill="none" stroke-linecap="round" stroke-linejoin="round"/>
<path d="M8.5 236V213.1" stroke="#00ff00" stroke-width="1.1" fill="none"/></svg></body></html>
